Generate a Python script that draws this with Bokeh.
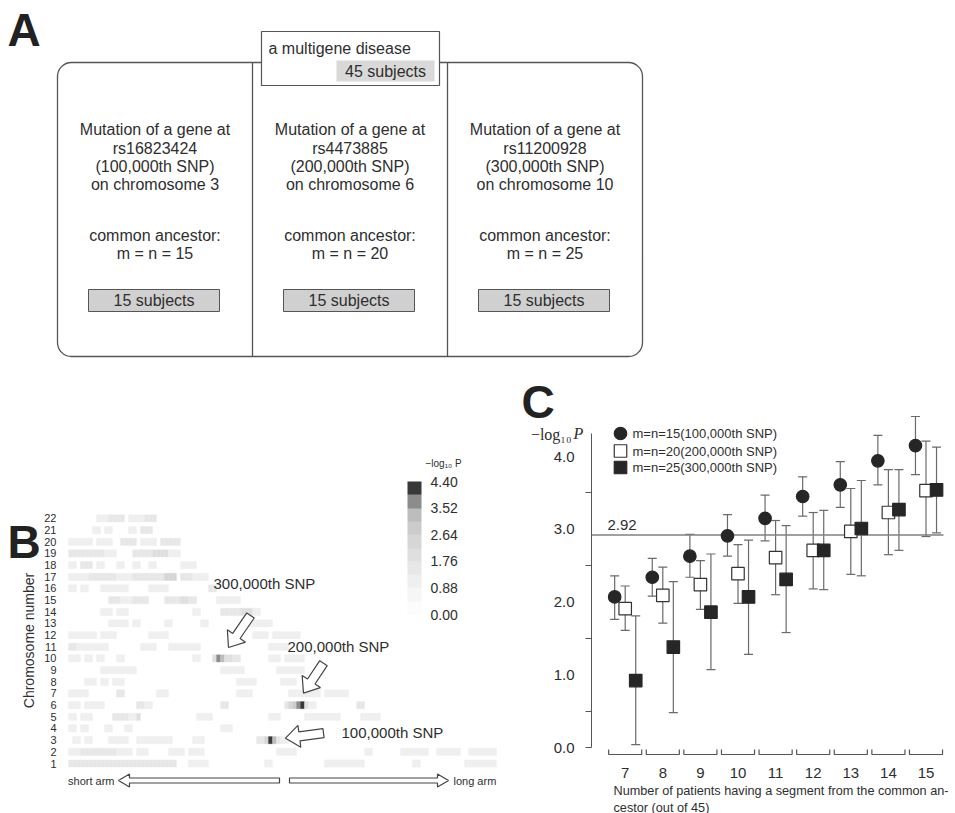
import math
from bokeh.plotting import figure
from bokeh.layouts import column, row
from bokeh.models import (Range1d, ColumnDataSource, LinearColorMapper, ColorBar,
                          FixedTicker, PrintfTickFormatter, Label, Whisker, TeeHead)
from bokeh.transform import transform
from bokeh.core.properties import value
from bokeh.embed import file_html
from bokeh.resources import INLINE

FONT = "Liberation Sans"
SERIF = "Liberation Serif"
INK = "#2e2e2e"
LINE = "#555555"

# ======================= DATA =======================
# ---- Panel A
disease_label = "a multigene disease"
total_subjects = 45
snp_ids = ["rs16823424", "rs4473885", "rs11200928"]
snp_ordinals = ["100,000th", "200,000th", "300,000th"]
snp_chromosomes = [3, 6, 10]
ancestor_mn = [15, 20, 25]
group_subjects = [15, 15, 15]

# ---- Panel B  (heat map of -log10 P along each chromosome, short arm -> long arm)
chromosome_numbers = list(range(1, 23))
n_bins = 108
colorbar_ticks = [0.00, 0.88, 1.76, 2.64, 3.52, 4.40]
heat_palette = ["#fcfcfc", "#f6f6f6", "#efefef", "#e7e7e7", "#dfdfdf",
                "#d6d6d6", "#cbcbcb", "#bdbdbd", "#8c8c8c", "#383838"]
# chromosome -> list of (first bin, last bin, -log10 P)
heat_segments = {
    22: [(7, 9, 1.3), (10, 13, 1.5), (15, 18, 1.3), (19, 21, 1.6)],
    21: [(6, 7, 1.3), (9, 10, 1.3), (15, 16, 1.3), (18, 20, 1.5)],
    20: [(0, 2, 1.3), (3, 5, 1.3), (7, 10, 1.2), (13, 16, 1.4), (18, 21, 1.3), (23, 27, 1.4)],
    19: [(0, 3, 1.4), (4, 8, 1.6), (9, 11, 1.3), (16, 20, 1.4), (21, 24, 1.8), (25, 27, 1.3)],
    18: [(0, 1, 1.3), (3, 5, 1.4), (7, 8, 1.2), (12, 13, 1.3), (16, 17, 1.3), (20, 21, 1.3), (28, 31, 1.3)],
    17: [(0, 4, 1.3), (5, 11, 1.4), (12, 15, 1.3), (16, 21, 1.4), (22, 23, 1.5), (24, 26, 2.3),
         (28, 30, 1.4), (31, 34, 1.3)],
    16: [(0, 1, 1.3), (3, 4, 1.3), (8, 14, 1.3), (20, 24, 1.3), (35, 36, 1.5)],
    15: [(10, 12, 1.4), (13, 15, 1.3), (16, 19, 1.4), (24, 27, 1.4), (28, 29, 2.1), (30, 31, 1.4),
         (37, 42, 1.3)],
    14: [(8, 10, 1.3), (12, 14, 1.3), (31, 32, 1.2), (38, 42, 1.5), (43, 45, 1.8), (46, 47, 1.3)],
    13: [(10, 14, 1.3), (16, 17, 1.2), (24, 25, 1.2), (33, 34, 1.2), (44, 50, 1.2)],
    12: [(0, 2, 1.3), (3, 6, 1.3), (8, 11, 1.3), (20, 24, 1.3), (46, 49, 1.2), (51, 57, 1.2)],
    11: [(0, 1, 1.6), (2, 9, 1.3), (18, 21, 1.3), (25, 32, 1.3), (50, 54, 1.3)],
    10: [(0, 2, 1.3), (4, 5, 1.3), (7, 8, 1.3), (12, 13, 1.2), (31, 32, 1.2), (36, 36, 2.0),
         (37, 37, 3.9), (38, 38, 3.4), (39, 40, 1.8), (41, 42, 1.4), (50, 52, 1.3), (54, 58, 1.3)],
    9: [(8, 11, 1.3), (12, 16, 1.3), (38, 43, 1.3), (52, 58, 1.3)],
    8: [(4, 6, 1.2), (8, 9, 1.2), (11, 13, 1.3), (42, 46, 1.2), (53, 56, 1.3)],
    7: [(0, 4, 1.3), (12, 13, 1.5), (22, 24, 1.2), (42, 45, 1.2), (55, 62, 1.3), (64, 69, 1.2)],
    6: [(0, 2, 1.3), (4, 6, 1.3), (7, 8, 1.3), (17, 18, 1.4), (19, 20, 1.3), (38, 39, 1.7),
        (54, 54, 1.6), (55, 55, 2.4), (56, 56, 3.0), (57, 57, 3.8), (58, 58, 4.3), (59, 59, 1.8),
        (60, 61, 1.3), (72, 73, 1.7)],
    5: [(0, 1, 1.3), (3, 5, 1.3), (11, 14, 1.4), (15, 16, 1.3), (17, 17, 1.9), (32, 35, 1.2),
        (50, 52, 1.2), (59, 67, 1.3), (73, 77, 1.3)],
    4: [(0, 1, 1.3), (3, 4, 1.3), (9, 10, 1.3), (14, 15, 1.3), (38, 40, 1.3)],
    3: [(1, 2, 1.2), (4, 5, 1.2), (10, 14, 1.3), (17, 25, 1.3), (31, 33, 1.2), (47, 48, 1.4),
        (49, 49, 2.4), (50, 50, 4.4), (51, 51, 3.2), (52, 52, 1.7), (53, 54, 1.3)],
    2: [(0, 2, 1.3), (3, 11, 1.4), (12, 15, 1.3), (17, 19, 1.2), (25, 28, 1.3), (30, 33, 1.3),
        (52, 56, 1.3), (74, 75, 1.2), (83, 89, 1.2), (92, 97, 1.2), (100, 106, 1.3)],
    1: [(0, 3, 1.4), (4, 9, 1.4), (10, 17, 1.5), (18, 26, 1.4), (30, 34, 1.3), (49, 50, 1.2),
        (64, 73, 1.3), (86, 87, 1.2), (99, 106, 1.3)],
}

# ---- Panel C
patients = [7, 8, 9, 10, 11, 12, 13, 14, 15]
threshold = 2.92
series_labels = ["m=n=15(100,000th SNP)", "m=n=20(200,000th SNP)", "m=n=25(300,000th SNP)"]
mean_15 = [2.07, 2.34, 2.63, 2.91, 3.15, 3.45, 3.61, 3.94, 4.15]
low_15 = [1.76, 2.08, 2.34, 2.63, 2.84, 3.18, 3.30, 3.61, 3.75]
high_15 = [2.36, 2.60, 2.93, 3.20, 3.47, 3.72, 3.93, 4.29, 4.55]
mean_20 = [1.91, 2.09, 2.24, 2.39, 2.61, 2.71, 2.97, 3.23, 3.53]
low_20 = [1.61, 1.71, 1.90, 1.98, 2.10, 2.18, 2.38, 2.65, 2.90]
high_20 = [2.22, 2.48, 2.57, 2.79, 3.12, 3.23, 3.56, 3.82, 4.21]
mean_25 = [0.92, 1.38, 1.86, 2.07, 2.31, 2.71, 3.01, 3.27, 3.54]
low_25 = [0.04, 0.48, 1.07, 1.28, 1.58, 2.17, 2.36, 2.71, 2.95]
high_25 = [1.81, 2.28, 2.66, 2.85, 3.05, 3.26, 3.67, 3.82, 4.13]


def base_fig(**kw):
    p = figure(output_backend="svg", toolbar_location=None, min_border=0, **kw)
    p.outline_line_color = None
    p.background_fill_color = "white"
    p.border_fill_color = "white"
    p.grid.visible = False
    return p


def letter(p, x, y, s):
    p.add_layout(Label(x=x, y=y, text=s, text_font=FONT, text_font_size="46px",
                       text_font_style="bold", text_color="#222222", text_baseline="middle"))


# ======================= PANEL A =======================
A_H = 370
pA = base_fig(width=955, height=A_H, x_range=Range1d(0, 955), y_range=Range1d(A_H, 0),
              x_axis_location=None, y_axis_location=None)

box_left, col_w, box_top, box_bottom = 57, 195, 62, 356
n_cols = len(snp_ids)
pA.quad(left=[box_left], right=[box_left + n_cols * col_w], top=[box_top], bottom=[box_bottom],
        fill_color=None, line_color=LINE, line_width=1.3, border_radius=14)
div_x = [box_left + (i + 1) * col_w for i in range(n_cols - 1)]
pA.segment(x0=div_x, y0=[box_top] * len(div_x), x1=div_x, y1=[box_bottom] * len(div_x),
           line_color=LINE, line_width=1.3)

pA.quad(left=[261], right=[439], top=[31], bottom=[85], fill_color="white",
        line_color=LINE, line_width=1.2)
pA.quad(left=[336], right=[434], top=[60], bottom=[81], fill_color="#d9d9d9", line_color=None)
pA.text(x=[268], y=[48], text=[disease_label], text_font=value(FONT), text_font_size="16px",
        text_color=INK, text_baseline="middle", text_align="left")
pA.text(x=[385], y=[71], text=[f"{total_subjects} subjects"], text_font=value(FONT),
        text_font_size="16px", text_color=INK, text_baseline="middle", text_align="center")

line_y = [129, 148, 166, 184, 235, 253]
tx, ty, tt, bl, br, gx, gt = [], [], [], [], [], [], []
for i in range(n_cols):
    cx = box_left + (i + 0.5) * col_w
    lines = ["Mutation of a gene at", snp_ids[i], f"({snp_ordinals[i]} SNP)",
             f"on chromosome {snp_chromosomes[i]}", "common ancestor:",
             f"m = n = {ancestor_mn[i]}"]
    for ly, s in zip(line_y, lines):
        tx.append(cx); ty.append(ly); tt.append(s)
    bl.append(cx - 66.5); br.append(cx + 64.5)
    gx.append(cx - 1); gt.append(f"{group_subjects[i]} subjects")
pA.text(x=tx, y=ty, text=tt, text_font=value(FONT), text_font_size="16px", text_color=INK,
        text_align="center", text_baseline="middle")
pA.quad(left=bl, right=br, top=[289] * n_cols, bottom=[311] * n_cols, fill_color="#d0d0d0",
        line_color=LINE, line_width=1)
pA.text(x=gx, y=[300] * n_cols, text=gt, text_font=value(FONT), text_font_size="16px",
        text_color=INK, text_align="center", text_baseline="middle")
pA.text(x=[7], y=[29], text=["A"], text_font=value(FONT), text_font_size="46px",
        text_font_style="bold", text_color="#222222", text_baseline="middle")

# ======================= PANEL B =======================
# frame == whole figure; page-pixel helpers (figure top at page y = A_H)
B_W, B_H = 520, 443
bin_px, row_px = 4.0, 11.67
HEAT_X0, CHR1_Y = 68, 763          # page px of bin 0 edge and of chromosome 1 row


def bx(px):
    return (px - HEAT_X0) / bin_px


def by(py):
    return 1 + (CHR1_Y - py) / row_px


pB = base_fig(width=B_W, height=B_H, x_range=Range1d(bx(0), bx(B_W)),
              y_range=Range1d(by(A_H + B_H), by(A_H)),
              x_axis_location=None, y_axis_location="left")
yb = pB.yaxis[0]
yb.fixed_location = bx(HEAT_X0)
yb.ticker = FixedTicker(ticks=chromosome_numbers)
yb.axis_line_color = None
yb.major_tick_line_color = None
yb.minor_tick_line_color = None
yb.major_label_standoff = 6
yb.major_label_text_font = FONT
yb.major_label_text_font_size = "11px"
yb.major_label_text_color = INK

cell_x, cell_y, cell_v = [], [], []
for chrom, segs in heat_segments.items():
    for b0, b1, v in segs:
        for b in range(b0, b1 + 1):
            cell_x.append(b + 0.5); cell_y.append(chrom); cell_v.append(v)
heat_src = ColumnDataSource(dict(x=cell_x, chrom=cell_y, v=cell_v))
mapper = LinearColorMapper(palette=heat_palette, low=colorbar_ticks[0], high=colorbar_ticks[-1])
pB.rect(x="x", y="chrom", width=1.0, height=0.62, source=heat_src,
        fill_color=transform("v", mapper), line_color=transform("v", mapper), line_width=0.3)

cb = ColorBar(color_mapper=mapper, ticker=FixedTicker(ticks=colorbar_ticks),
              formatter=PrintfTickFormatter(format="%.2f"), orientation="vertical",
              width=14, height=133, location=(407, (A_H + B_H) - 614), padding=0, margin=0,
              major_tick_line_color=None, bar_line_color=None, label_standoff=9,
              major_label_text_font=FONT, major_label_text_font_size="14px",
              major_label_text_color=INK, background_fill_color=None, border_line_color=None)
pB.add_layout(cb)


def block_arrow(tail, tip, shaft_w, head_w, head_len):
    (x0, y0), (x1, y1) = tail, tip
    d = math.hypot(x1 - x0, y1 - y0)
    ux, uy = (x1 - x0) / d, (y1 - y0) / d
    nx, ny = -uy, ux
    neck = (x1 - ux * head_len, y1 - uy * head_len)
    return [(x0 + nx * shaft_w / 2, y0 + ny * shaft_w / 2),
            (neck[0] + nx * shaft_w / 2, neck[1] + ny * shaft_w / 2),
            (neck[0] + nx * head_w / 2, neck[1] + ny * head_w / 2),
            (x1, y1),
            (neck[0] - nx * head_w / 2, neck[1] - ny * head_w / 2),
            (neck[0] - nx * shaft_w / 2, neck[1] - ny * shaft_w / 2),
            (x0 - nx * shaft_w / 2, y0 - ny * shaft_w / 2)]


# arrows pointing at the strongest cell of each disease chromosome (offsets in px)
arrow_geo = {10: ((32, -43), (10, -11), (-5, -75)),
             6: ((21, -42), (1, -12), (-15, -59)),
             3: ((53, -7), (15, -2), (71, -8))}
axs, ays = [], []
for chrom, ordinal in zip(snp_chromosomes, snp_ordinals):
    vmax, xpk = max((v, x) for x, c, v in zip(cell_x, cell_y, cell_v) if c == chrom)
    pkx = HEAT_X0 + xpk * bin_px
    pky = CHR1_Y - (chrom - 1) * row_px
    tail_off, tip_off, lab_off = arrow_geo[chrom]
    pts = block_arrow((pkx + tail_off[0], pky + tail_off[1]),
                      (pkx + tip_off[0], pky + tip_off[1]), 9, 22, 14)
    axs.append([bx(q[0]) for q in pts]); ays.append([by(q[1]) for q in pts])
    pB.add_layout(Label(x=bx(pkx + lab_off[0]), y=by(pky + lab_off[1]), text=f"{ordinal} SNP",
                        text_font=FONT, text_font_size="15px", text_color=INK,
                        text_baseline="middle", text_align="left"))

arm_y = 780
for tail, tip in [((279, arm_y), (118, arm_y)), ((289, arm_y), (448, arm_y))]:
    pts = block_arrow(tail, tip, 5, 13, 11)
    axs.append([bx(q[0]) for q in pts]); ays.append([by(q[1]) for q in pts])
pB.patches(xs=axs, ys=ays, fill_color="white", line_color="#444444", line_width=1.2)
pB.add_layout(Label(x=bx(114), y=by(arm_y), text="short arm", text_font=FONT,
                    text_font_size="11px", text_color=INK, text_align="right",
                    text_baseline="middle"))
pB.add_layout(Label(x=bx(453), y=by(arm_y), text="long arm", text_font=FONT,
                    text_font_size="11px", text_color=INK, text_align="left",
                    text_baseline="middle"))
pB.add_layout(Label(x=bx(425), y=by(463), text="−log₁₀ P", text_font=FONT,
                    text_font_size="10px", text_color=INK, text_align="left",
                    text_baseline="middle"))
pB.add_layout(Label(x=bx(28), y=by(640), text="Chromosome number", text_font=FONT,
                    text_font_size="14px", text_color=INK, text_align="center",
                    text_baseline="middle", angle=math.pi / 2))
letter(pB, bx(7), by(541), "B")

# ======================= PANEL C =======================
C_W, C_H = 435, 443
C_X0 = B_W                        # page x of the figure's left edge
px_per_x, px_per_y = 37.6, 72.75
X7_PX, Y0_PX = 624.7, 747         # page px of x = 7 and y = 0


def cxd(px):
    return 7 + (px - X7_PX) / px_per_x


def cyd(py):
    return (Y0_PX - py) / px_per_y


pC = base_fig(width=C_W, height=C_H, x_range=Range1d(cxd(C_X0), cxd(C_X0 + C_W)),
              y_range=Range1d(cyd(A_H + C_H), cyd(A_H)))

yax = pC.yaxis[0]
yax.fixed_location = cxd(591)
yax.bounds = (0, 4.32)
yax.ticker = FixedTicker(ticks=[0, 1, 2, 3, 4], minor_ticks=[0, 0.5, 1.5, 2.5, 3.5])
yax.formatter = PrintfTickFormatter(format="%.1f")
yax.major_tick_out = 0
yax.major_tick_in = 0
yax.minor_tick_out = 6
yax.minor_tick_in = 0
yax.minor_tick_line_color = LINE
yax.axis_line_color = LINE
yax.major_label_standoff = 11
yax.major_label_text_font = FONT
yax.major_label_text_font_size = "15px"
yax.major_label_text_color = INK

xax = pC.xaxis[0]
xax.fixed_location = cyd(758)
xax.ticker = FixedTicker(ticks=patients)
xax.axis_line_color = None
xax.major_tick_line_color = None
xax.minor_tick_line_color = None
xax.major_label_standoff = 3
xax.major_label_text_font = FONT
xax.major_label_text_font_size = "15px"
xax.major_label_text_color = INK

# category brackets under the groups
half = 0.44
pC.multi_line(xs=[[c - half, c - half, c + half, c + half] for c in patients],
              ys=[[cyd(749), cyd(754), cyd(754), cyd(749)] for _ in patients],
              line_color=LINE, line_width=1.2)

# significance threshold
pC.segment(x0=[cxd(591)], x1=[cxd(943)], y0=[threshold], y1=[threshold],
           line_color="#808080", line_width=1.5)
pC.add_layout(Label(x=cxd(607), y=cyd(524), text=f"{threshold:.2f}", text_font=FONT,
                    text_font_size="15px", text_color=INK, text_baseline="middle"))

offset = 0.28
series = [
    (mean_15, low_15, high_15, -offset, "circle", "#262626", "#262626"),
    (mean_20, low_20, high_20, 0.0, "square", "white", "#333333"),
    (mean_25, low_25, high_25, offset, "square", "#262626", "#262626"),
]
for mean, lo, hi, off, marker, fill, lc in series:
    src = ColumnDataSource(dict(x=[c + off for c in patients], y=mean, lo=lo, hi=hi))
    w = Whisker(source=src, base="x", upper="hi", lower="lo", line_color="#6a6a6a",
                line_width=1.2, level="underlay",
                upper_head=TeeHead(size=9, line_color="#6a6a6a", line_width=1.2),
                lower_head=TeeHead(size=9, line_color="#6a6a6a", line_width=1.2))
    pC.add_layout(w)
    pC.scatter(x="x", y="y", source=src, marker=marker, size=12.5, fill_color=fill,
               line_color=lc, line_width=1.2)

# legend (drawn manually for full-size markers)
for (mean, lo, hi, off, marker, fill, lc), ly, lab in zip(series, [433, 450.5, 467], series_labels):
    pC.scatter(x=[cxd(620)], y=[cyd(ly)], marker=marker, size=12.5, fill_color=fill,
               line_color=lc, line_width=1.2)
    pC.add_layout(Label(x=cxd(632), y=cyd(ly), text=lab, text_font=FONT, text_font_size="13px",
                        text_color=INK, text_baseline="middle"))

pC.add_layout(Label(x=cxd(571), y=cyd(434), text="−log₁₀", text_font=SERIF,
                    text_font_size="16px", text_color=INK, text_align="right",
                    text_baseline="middle"))
pC.add_layout(Label(x=cxd(573), y=cyd(433), text="P", text_font=SERIF, text_font_style="italic",
                    text_font_size="16px", text_color=INK, text_align="left",
                    text_baseline="middle"))
pC.add_layout(Label(x=cxd(613), y=cyd(790),
                    text="Number of patients having a segment from the common an-",
                    text_font=FONT, text_font_size="12.7px", text_color=INK, text_baseline="middle"))
pC.add_layout(Label(x=cxd(613), y=cyd(807), text="cestor (out of 45)",
                    text_font=FONT, text_font_size="12.7px", text_color=INK, text_baseline="middle"))
letter(pC, cxd(521), cyd(401), "C")

layout = column(pA, row(pB, pC))
open("out.html", "w").write(file_html(layout, INLINE))
